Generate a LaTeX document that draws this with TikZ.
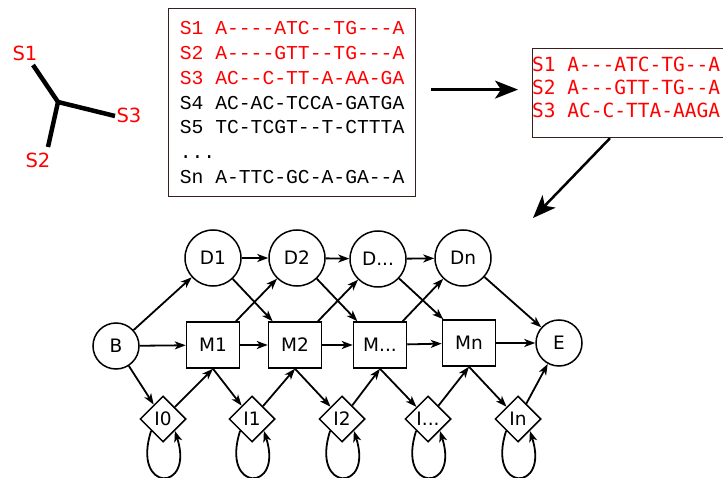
\documentclass[tikz,border=0pt]{standalone}
\definecolor{seqred}{HTML}{FF0000}
\definecolor{boxborder}{HTML}{3A1F1F}
\usepackage{fontspec}
\setmainfont{DejaVu Sans}
\newfontfamily\alnfont[Ligatures=TeXOff]{Liberation Mono}
\newfontfamily\trimfont[Ligatures=TeXOff]{DejaVu Sans Mono}
\usetikzlibrary{arrows.meta, shapes.geometric}

\tikzset{
  state/.style={circle, draw, line width=1.5pt, inner sep=0pt, font=\fontsize{18.5}{20}\selectfont},
  delstate/.style={state, minimum size=56pt},
  endstate/.style={state, minimum size=46pt},
  matchstate/.style={rectangle, draw, line width=1.5pt, minimum width=53pt, minimum height=46pt, font=\fontsize{18.5}{20}\selectfont},
  insstate/.style={diamond, draw, line width=1.5pt, minimum size=46pt, inner sep=0pt, font=\fontsize{18.5}{20}\selectfont},
  trans/.style={-{Stealth[length=11pt, width=8pt, inset=3pt]}, line width=1.8pt},
  bigarrow/.style={-{Stealth[length=23pt, width=18pt, inset=6pt]}, line width=2.5pt},
  alnbox/.style={draw=boxborder, line width=1.2pt},
  branch/.style={line width=4.5pt},
  leaf/.style={text=seqred, font=\fontsize{19.5}{20}\selectfont},
}

\begin{document}
\begin{tikzpicture}[x=1pt, y=-1pt]
  \useasboundingbox (0,0) rectangle (723,478);
  % guide tree
  \coordinate (root) at (58,102);
  \coordinate (tip1) at (33,65);
  \coordinate (tip2) at (48,147);
  \coordinate (tip3) at (115,116);
  \node[leaf] (S1) at (25,53) {S1};
  \node[leaf] (S2) at (38,160) {S2};
  \node[leaf] (S3) at (129,115) {S3};
  \draw[branch] (root) -- (tip1);
  \draw[branch] (root) -- (tip2);
  \draw[branch] (root) -- (tip3);
  % full alignment
  \node[alnbox, anchor=north west, minimum width=247pt, minimum height=188pt,
        align=left, font=\alnfont\fontsize{19.7}{24.8}\selectfont] (msa) at (168,8)
    {\textcolor{seqred}{S1 A----ATC--TG---A}\\
     \textcolor{seqred}{S2 A----GTT--TG---A}\\
     \textcolor{seqred}{S3 AC--C-TT-A-AA-GA}\\
     S4 AC-AC-TCCA-GATGA\\
     S5 TC-TCGT--T-CTTTA\\
     ...\\
     Sn A-TTC-GC-A-GA--A};
  % trimmed alignment
  \node[alnbox, anchor=north west, minimum width=200pt, minimum height=89pt] (trim) at (532,48) {};
  \node[anchor=north west, inner sep=0pt, align=left, text=seqred,
        font=\trimfont\fontsize{19.5}{23}\selectfont] (trimtext) at ([shift={(0,9)}]trim.north west)
    {S1 A---ATC-TG--A\\
     S2 A---GTT-TG--A\\
     S3 AC-C-TTA-AAGA};
  \coordinate (hmmtop) at (533,218);
  \draw[bigarrow, shorten <=15pt, shorten >=14pt] ([yshift=13pt]msa.east) -- ([yshift=13pt]msa.east -| trim.west);
  \draw[bigarrow] ([xshift=78pt]trim.south west) -- (hmmtop);
  % profile HMM states
  \node[endstate] (B) at (116,346) {B};
  \node[delstate] (D1) at (213,258) {D1};
  \node[delstate] (D2) at (297,258) {D2};
  \node[delstate] (D3) at (378,259) {D...};
  \node[delstate] (D4) at (463,258) {Dn};
  \node[matchstate] (M1) at (213,345) {M1};
  \node[matchstate] (M2) at (295,345) {M2};
  \node[matchstate] (M3) at (380,345) {M...};
  \node[matchstate] (M4) at (469,343) {Mn};
  \node[insstate] (I0) at (163,419) {I0};
  \node[insstate] (I1) at (252,419) {I1};
  \node[insstate] (I2) at (342,419) {I2};
  \node[insstate] (I3) at (428,419) {I...};
  \node[insstate] (I4) at (518,419) {In};
  \node[endstate] (E) at (559,343) {E};
  % transitions
  \draw[trans] (B) -- (D1);
  \draw[trans] (B) -- (M1);
  \draw[trans] (B) -- (I0);
  \draw[trans] (I0) -- (M1.south);
  \draw[trans] (D1) -- (D2);
  \draw[trans] (D1) -- (M2);
  \draw[trans] (M1) -- (D2);
  \draw[trans] (M1) -- (M2);
  \draw[trans] (M1.south) -- (I1);
  \draw[trans] (I1) -- (M2.south);
  \draw[trans] (D2) -- (D3);
  \draw[trans] (D2) -- (M3);
  \draw[trans] (M2) -- (D3);
  \draw[trans] (M2) -- (M3);
  \draw[trans] (M2.south) -- (I2);
  \draw[trans] (I2) -- (M3.south);
  \draw[trans] (D3) -- (D4);
  \draw[trans] (D3) -- (M4);
  \draw[trans] (M3) -- (D4);
  \draw[trans] (M3) -- (M4);
  \draw[trans] (M3.south) -- (I3);
  \draw[trans] (I3) -- (M4.south);
  \draw[trans] (D4) -- (E);
  \draw[trans] (M4) -- (E);
  \draw[trans] (M4.south) -- (I4);
  \draw[trans] (I4) -- (E);
  % insert self loops
  \draw[trans] (I0.south west) .. controls +(-20,62) and +(20,62) .. (I0.south east);
  \draw[trans] (I1.south west) .. controls +(-20,62) and +(20,62) .. (I1.south east);
  \draw[trans] (I2.south west) .. controls +(-20,62) and +(20,62) .. (I2.south east);
  \draw[trans] (I3.south west) .. controls +(-20,62) and +(20,62) .. (I3.south east);
  \draw[trans] (I4.south west) .. controls +(-20,62) and +(20,62) .. (I4.south east);
\end{tikzpicture}
\end{document}
